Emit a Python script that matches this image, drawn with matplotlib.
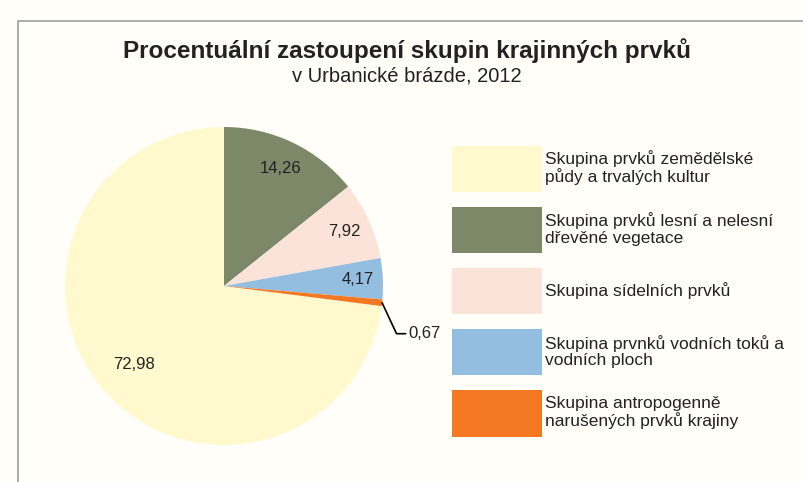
import numpy as np
import matplotlib
matplotlib.use("Agg")
import matplotlib.pyplot as plt
from matplotlib.patches import Rectangle, Patch

plt.rcParams['font.family'] = ['Liberation Sans', 'DejaVu Sans']

categories = [
    "Skupina prvků zemědělské\npůdy a trvalých kultur",
    "Skupina prvků lesní a nelesní\ndřevěné vegetace",
    "Skupina sídelních prvků",
    "Skupina prvnků vodních toků a\nvodních ploch",
    "Skupina antropogenně\nnarušených prvků krajiny",
]
values = [72.98, 14.26, 7.92, 4.17, 0.67]
labels = ["72,98", "14,26", "7,92", "4,17", "0,67"]
colors = ["#FFF9CD", "#7D8869", "#FCE3D9", "#93BEDF", "#F47822"]
bg = "#FFFEF9"
txt = "#222222"

fig = plt.figure(figsize=(8.04, 4.82), dpi=100, facecolor=bg)
W, H = 804, 482

# pie axes: center ~ (224, 286) px, radius ~159 px
ax = fig.add_axes([65 / W, (H - 445) / H, 318 / W, 318 / H])
ax.set_facecolor(bg)

total = sum(values)
start = 90 + 360 * values[0] / total
wedges, _ = ax.pie(values, colors=colors, startangle=start, counterclock=False,
                   radius=1, wedgeprops=dict(linewidth=0))
ax.set_xlim(-1, 1)
ax.set_ylim(-1, 1)
ax.axis('off')

dists = [0.75, 0.82, 0.83, 0.84]
for w, lab, d in zip(wedges[:4], labels[:4], dists):
    ang = np.deg2rad((w.theta1 + w.theta2) / 2)
    ax.text(d * np.cos(ang), d * np.sin(ang), lab, ha='center', va='center',
            fontsize=12, color=txt)

# small slice with leader line
w = wedges[4]
ang = np.deg2rad((w.theta1 + w.theta2) / 2)
ax.annotate(labels[4], xy=(np.cos(ang), np.sin(ang)), xytext=(1.16, -0.30),
            fontsize=12, color=txt, va='center', ha='left',
            annotation_clip=False,
            arrowprops=dict(arrowstyle='-', color='black', lw=1.2,
                            shrinkA=0, shrinkB=0,
                            connectionstyle="angle,angleA=0,angleB=-65,rad=0"))

handles = [Patch(facecolor=c, edgecolor='none') for c in colors]
fs = 12.5
px = fs * 100 / 72
leg = fig.legend(handles, categories, loc='upper left',
                 bbox_to_anchor=(452 / W, 1 - 146 / H), frameon=False,
                 fontsize=fs, handlelength=90 / px, handleheight=46 / px * 1.40,
                 labelspacing=15 / px, handletextpad=0.18, borderpad=0,
                 borderaxespad=0, labelcolor=txt)
for t in leg.get_texts():
    t.set_linespacing(1.1)

fig.text(407 / W, 1 - 51 / H, "Procentuální zastoupení skupin krajinných prvků",
         ha='center', va='center', fontsize=17.5, fontweight='bold', color=txt)
fig.text(407 / W, 1 - 76 / H, "v Urbanické brázde, 2012",
         ha='center', va='center', fontsize=14.5, color=txt)

fig.add_artist(Rectangle((18 / W, -0.1), 1.2, 1 - 21 / H + 0.1,
                         transform=fig.transFigure, fill=False,
                         edgecolor="#A0A0A0", linewidth=1.2))

fig.savefig("out.png", dpi=100, facecolor=bg)
